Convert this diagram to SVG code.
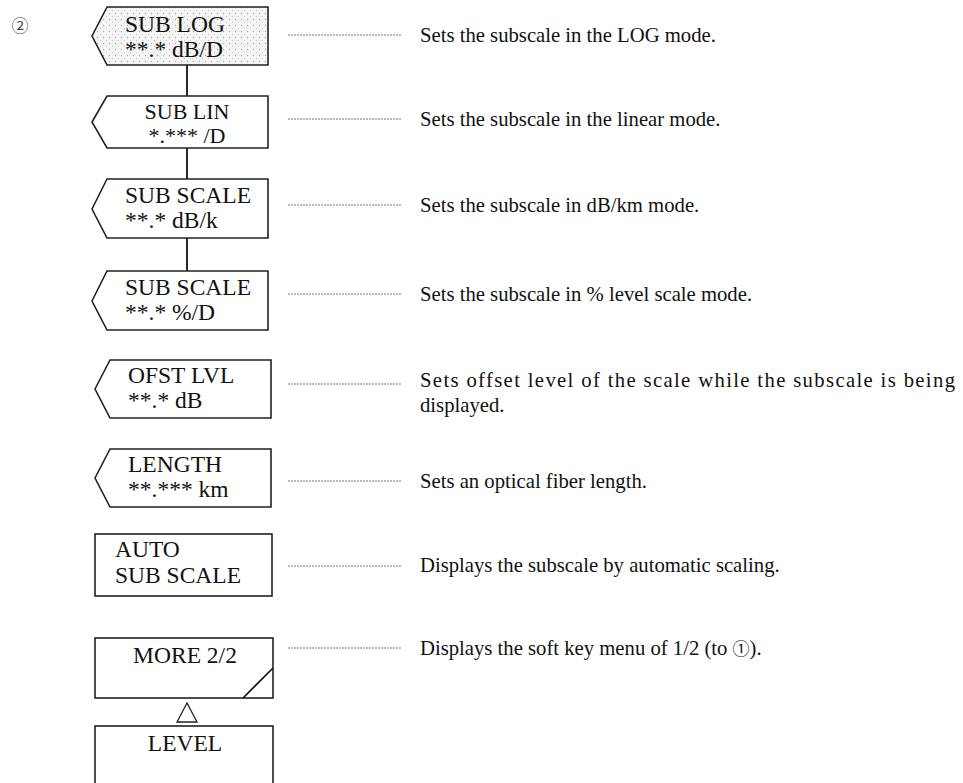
<svg xmlns="http://www.w3.org/2000/svg" width="963" height="783" viewBox="0 0 963 783">
<style>
.key{fill:#fff;stroke:#222;stroke-width:1.6}
.kt{font-family:"Liberation Serif",serif;font-size:23.5px;fill:#111}
.dt{font-family:"Liberation Serif",serif;font-size:20.7px;fill:#111}
.lead{stroke:#777;stroke-width:1;stroke-dasharray:2 1}
.conn{stroke:#111;stroke-width:1.8;fill:none}
</style>
<defs>
<pattern id="dots" width="6" height="6" patternUnits="userSpaceOnUse">
<rect width="6" height="6" fill="#f4f4f4"/>
<circle cx="1.5" cy="1.5" r="0.7" fill="#aaa"/>
<circle cx="4.5" cy="4.5" r="0.5" fill="#bbb"/>
</pattern>
</defs>
<text x="20" y="32" font-family="'Noto Sans CJK JP',sans-serif" font-size="17" fill="#444" text-anchor="middle">②</text>
<g id="connectors">
<line class="conn" x1="187" y1="65" x2="187" y2="96"/>
<line class="conn" x1="187" y1="148" x2="187" y2="179"/>
<line class="conn" x1="187" y1="238" x2="187" y2="271"/>
<polygon points="187,703 177,722 197,722" fill="#fff" stroke="#222" stroke-width="1.3"/>
<line class="lead" x1="288" y1="35" x2="402" y2="35"/>
<line class="lead" x1="288" y1="119" x2="402" y2="119"/>
<line class="lead" x1="288" y1="205" x2="402" y2="205"/>
<line class="lead" x1="288" y1="294" x2="402" y2="294"/>
<line class="lead" x1="288" y1="384" x2="402" y2="384"/>
<line class="lead" x1="288" y1="481" x2="402" y2="481"/>
<line class="lead" x1="288" y1="566" x2="402" y2="566"/>
<line class="lead" x1="288" y1="648" x2="402" y2="648"/>
</g>
<g id="sub-log">
<polygon class="key" points="92,36 107,7 268,7 268,65 107,65" style="fill:url(#dots)"/>
<text class="kt" x="125" y="32">SUB LOG</text>
<text class="kt" x="125" y="57">**.* dB/D</text>
<text class="dt" x="420" y="42">Sets the subscale in the LOG mode.</text>
</g>
<g id="sub-lin">
<polygon class="key" points="92,122 107,96 268,96 268,148 107,148"/>
<text class="kt" x="187" y="119" text-anchor="middle" style="font-size:22px">SUB LIN</text>
<text class="kt" x="187" y="143" text-anchor="middle" style="font-size:22px">*.*** /D</text>
<text class="dt" x="420" y="126">Sets the subscale in the linear mode.</text>
</g>
<g id="sub-scale-db">
<polygon class="key" points="92,209 107,179 268,179 268,238 107,238"/>
<text class="kt" x="125" y="203">SUB SCALE</text>
<text class="kt" x="125" y="228">**.* dB/k</text>
<text class="dt" x="420" y="212">Sets the subscale in dB/km mode.</text>
</g>
<g id="sub-scale-pct">
<polygon class="key" points="92,301 107,271 268,271 268,330 107,330"/>
<text class="kt" x="125" y="295">SUB SCALE</text>
<text class="kt" x="125" y="320">**.* %/D</text>
<text class="dt" x="420" y="301">Sets the subscale in % level scale mode.</text>
</g>
<g id="ofst-lvl">
<polygon class="key" points="95,389 110,360 271,360 271,418 110,418"/>
<text class="kt" x="128" y="383">OFST LVL</text>
<text class="kt" x="128" y="408">**.* dB</text>
<text class="dt" x="420" y="387" textLength="535" lengthAdjust="spacing">Sets offset level of the scale while the subscale is being</text>
<text class="dt" x="420" y="412">displayed.</text>
</g>
<g id="length">
<polygon class="key" points="95,478 110,449 271,449 271,507 110,507"/>
<text class="kt" x="128" y="472">LENGTH</text>
<text class="kt" x="128" y="497">**.*** km</text>
<text class="dt" x="420" y="488">Sets an optical fiber length.</text>
</g>
<g id="auto-sub-scale">
<rect class="key" x="95" y="534" width="177" height="62"/>
<text class="kt" x="115" y="557">AUTO</text>
<text class="kt" x="115" y="583">SUB SCALE</text>
<text class="dt" x="420" y="572">Displays the subscale by automatic scaling.</text>
</g>
<g id="more">
<rect class="key" x="95" y="638" width="178" height="60"/>
<line x1="243" y1="698" x2="273" y2="668" stroke="#111" stroke-width="1.6"/>
<text class="kt" x="185" y="663" text-anchor="middle">MORE 2/2</text>
<text class="dt" x="420" y="655">Displays the soft key menu of 1/2 (to <tspan font-family="'Noto Sans CJK JP',sans-serif" font-size="17">①</tspan>).</text>
</g>
<g id="level">
<rect class="key" x="95" y="726" width="178" height="70"/>
<text class="kt" x="185" y="751" text-anchor="middle">LEVEL</text>
</g>
</svg>
